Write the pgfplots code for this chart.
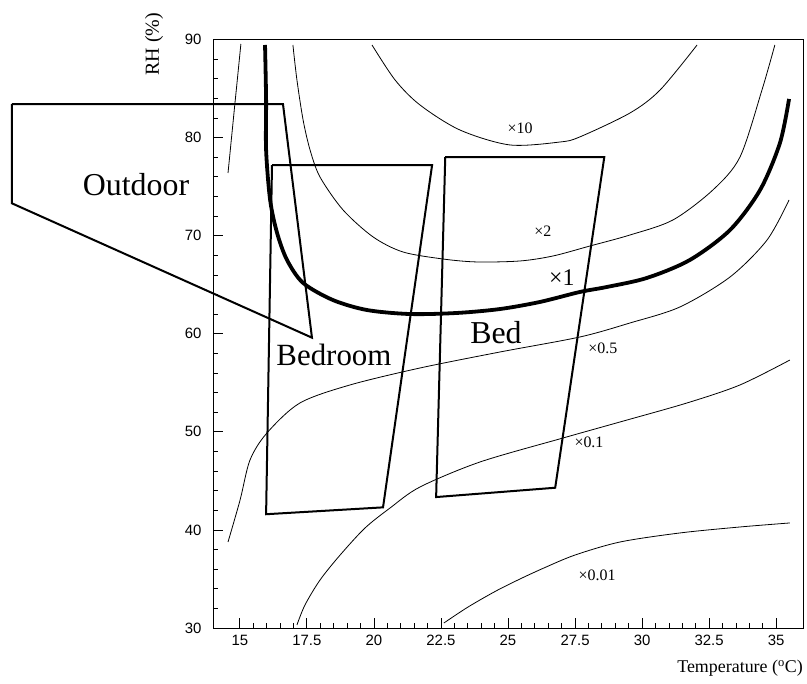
\documentclass[border=0pt]{standalone}
\usepackage{fontspec}
\setmainfont{Liberation Serif}
\setsansfont{Liberation Sans}
\usepackage{pgfplots}
\pgfplotsset{compat=1.18}
\begin{document}
\begin{tikzpicture}
\useasboundingbox (-213bp,-56bp) rectangle (594bp,628bp);
\begin{axis}[
  scale only axis, width=590bp, height=588.5bp,
  at={(0,0)}, anchor=south west,
  xmin=14, xmax=36, ymin=30, ymax=90,
  clip=false,
  xtick={15,17.5,20,22.5,25,27.5,30,32.5,35},
  xticklabels={15,17.5,20,22.5,25,27.5,30,32.5,35},
  ytick={30,40,50,60,70,80,90},
  minor x tick num=4, minor y tick num=4,
  tick align=inside, tick pos=left,
  major tick length=10bp, minor tick length=5bp,
  every tick/.style={black, line width=0.8bp},
  axis line style={line width=0.8bp},
  /pgf/number format/assume math mode=true,
  ticklabel style={font=\sffamily\fontsize{15}{15}\selectfont},
  xticklabel style={yshift=-4bp},
  yticklabel style={xshift=-8bp},
  xlabel={Temperature (\textsuperscript{o}C)},
  ylabel={RH (\%)},
  xlabel style={at={(rel axis cs:1,-0.054)}, anchor=north east, inner sep=0pt, font=\fontsize{18}{18}\selectfont},
  ylabel style={at={(rel axis cs:-0.1,0.992)}, anchor=center, inner sep=0pt, font=\fontsize{20}{20}\selectfont},
]
% regions
\addplot[black, line width=2bp] coordinates {(6.5,83.4) (16.61,83.4) (17.69,59.6) (6.5,73.3) (6.5,83.4)};
\addplot[black, line width=2bp] coordinates {(16.2,77.2) (22.17,77.2) (20.34,42.3) (15.98,41.6) (16.2,77.2)};
\addplot[black, line width=2bp] coordinates {(22.66,78.0) (28.59,78.0) (26.76,44.3) (22.32,43.35) (22.66,78.0)};
% x1 thick
\addplot[black, line width=3.8bp, smooth, tension=0.5] coordinates {
(15.94,89.44) (15.98,83.83) (15.98,78.73) (16.13,73.64) (16.39,70.27) (16.76,67.52) (17.36,65.18) (18.47,63.44) (19.74,62.42) (21.35,62.01) (23.10,62.12) (24.70,62.52) (26.19,63.24) (27.68,64.26) (28.69,64.77) (30.18,65.69) (31.78,67.52) (33.28,70.58) (34.40,74.66) (35.14,79.45) (35.48,83.94)};
% x2
\addplot[black, line width=0.8bp, smooth, tension=0.5] coordinates {
(16.98,89.44) (17.13,85.87) (17.36,81.79) (17.62,78.73) (17.99,75.98) (18.85,72.62) (19.97,69.87) (21.08,68.34) (22.58,67.62) (23.84,67.32) (25.45,67.42) (26.68,67.93) (28.06,68.95) (29.55,70.07) (31.15,71.60) (32.64,74.66) (33.65,78.02) (34.47,84.85) (34.95,89.44)};
% x10
\addplot[black, line width=0.8bp, smooth, tension=0.5] coordinates {
(19.93,89.44) (20.79,85.87) (21.72,83.32) (23.21,80.77) (25.07,79.25) (26.94,79.55) (27.68,80.07) (29.55,82.51) (30.67,84.85) (32.05,89.44)};
% leftmost
\addplot[black, line width=0.8bp] coordinates {(15.04,89.54) (14.80,83.0) (14.56,76.39)};
% x0.5
\addplot[black, line width=0.8bp, smooth, tension=0.5] coordinates {
(14.56,38.77) (15.01,43.05) (15.38,47.13) (16.01,49.88) (17.24,52.94) (19.11,54.78) (21.72,56.51) (24.70,58.14) (27.68,59.67) (29.55,61.10) (31.41,62.73) (33.28,65.79) (34.66,69.56) (35.48,73.64)};
% x0.1
\addplot[black, line width=0.8bp, smooth, tension=0.5] coordinates {
(17.13,30.31) (17.43,32.35) (17.99,34.89) (18.74,37.44) (19.67,40.20) (20.60,42.23) (21.72,44.38) (23.96,46.93) (27.05,49.37) (29.17,51.00) (31.67,52.94) (33.65,54.78) (35.51,57.32)};
% x0.01
\addplot[black, line width=0.8bp, smooth, tension=0.5] coordinates {
(22.61,30.51) (23.51,32.14) (24.55,33.77) (25.45,35.0) (26.34,36.12) (27.50,37.44) (29.18,38.77) (31.41,39.69) (33.65,40.30) (35.51,40.71)};
% labels
\node[font=\fontsize{32}{32}\selectfont] at (axis cs:11.13,75.17) {Outdoor};
\node[font=\fontsize{31}{31}\selectfont] at (axis cs:18.51,57.83) {Bedroom};
\node[font=\fontsize{32}{32}\selectfont] at (axis cs:24.55,60.08) {Bed};
\node[font=\fontsize{24}{24}\selectfont] at (axis cs:27.01,65.69) {×1};
\node[font=\fontsize{16}{16}\selectfont] at (axis cs:25.45,80.98) {×10};
\node[font=\fontsize{16}{16}\selectfont] at (axis cs:26.30,70.48) {×2};
\node[font=\fontsize{16}{16}\selectfont] at (axis cs:28.54,58.55) {×0.5};
\node[font=\fontsize{16}{16}\selectfont] at (axis cs:28.02,48.96) {×0.1};
\node[font=\fontsize{16}{16}\selectfont] at (axis cs:28.32,35.40) {×0.01};
\end{axis}
\end{tikzpicture}
\end{document}
